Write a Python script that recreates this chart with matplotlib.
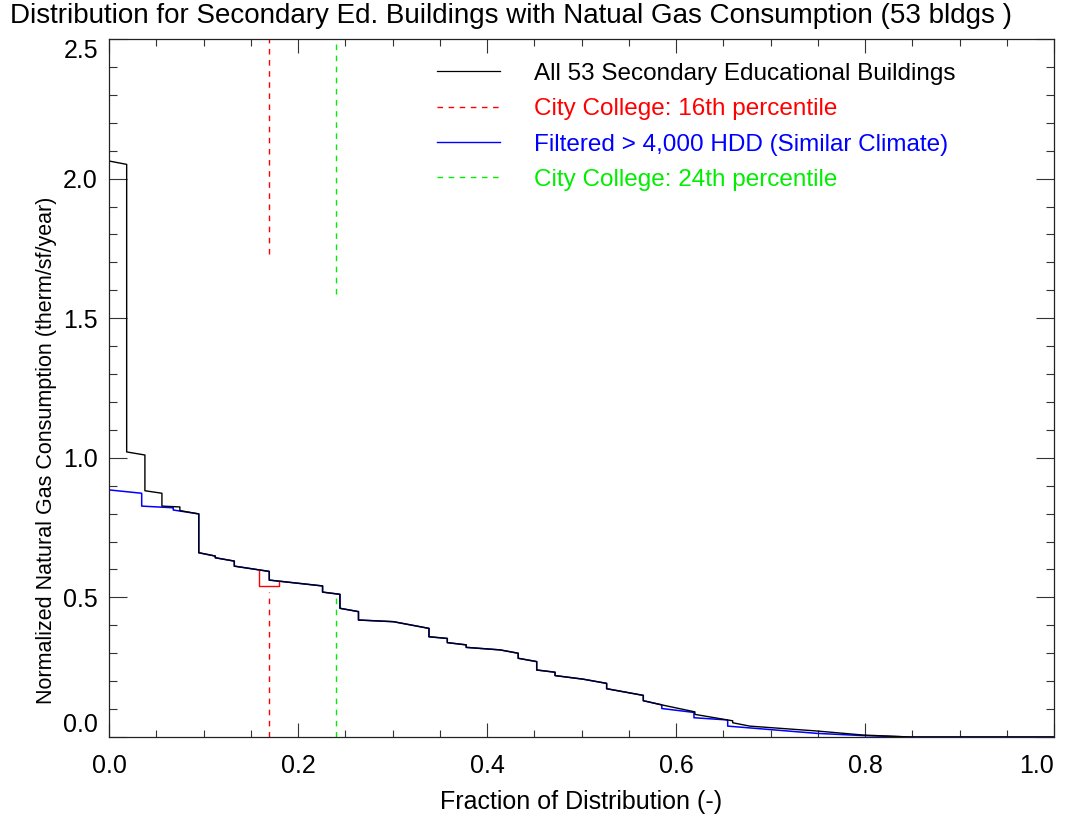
import matplotlib
matplotlib.use("Agg")
import matplotlib.pyplot as plt
from matplotlib.lines import Line2D
from matplotlib.ticker import MultipleLocator

# All 53 secondary educational buildings (sorted, step-like distribution)
black_x = [0.0, 0.0187, 0.0187, 0.038, 0.038, 0.056, 0.056, 0.075, 0.075, 0.095,
           0.095, 0.1125, 0.1125, 0.1326, 0.1326, 0.1696, 0.1696, 0.226, 0.226,
           0.2444, 0.2444, 0.264, 0.264, 0.301, 0.3386, 0.3386, 0.358, 0.358,
           0.378, 0.378, 0.4138, 0.433, 0.433, 0.4526, 0.4526, 0.472, 0.472,
           0.502, 0.5266, 0.5266, 0.5654, 0.5654, 0.585, 0.620, 0.620, 0.6547,
           0.660, 0.660, 0.678, 0.749, 0.798, 0.848, 1.0]
black_y = [2.063, 2.051, 1.021, 1.010, 0.882, 0.873, 0.827, 0.824, 0.811, 0.799,
           0.660, 0.648, 0.642, 0.630, 0.612, 0.593, 0.562, 0.541, 0.519,
           0.511, 0.461, 0.449, 0.419, 0.413, 0.389, 0.359, 0.353, 0.338,
           0.330, 0.321, 0.312, 0.300, 0.282, 0.270, 0.240, 0.232, 0.220,
           0.207, 0.192, 0.173, 0.149, 0.130, 0.115, 0.090, 0.081, 0.061,
           0.058, 0.051, 0.039, 0.0215, 0.007, 0.0, 0.0]

# Filtered > 4,000 HDD
blue_x = [0.0, 0.0346, 0.0346, 0.068, 0.068, 0.095,
          0.095, 0.1125, 0.1125, 0.1326, 0.1326, 0.1696, 0.1696, 0.226, 0.226,
          0.2444, 0.2444, 0.264, 0.264, 0.301, 0.3386, 0.3386, 0.358, 0.358,
          0.378, 0.378, 0.4138, 0.433, 0.433, 0.4526, 0.4526, 0.472, 0.472,
          0.502, 0.5266, 0.5266, 0.5654, 0.5654, 0.585,
          0.585, 0.619, 0.619, 0.6547, 0.6547, 0.749, 0.798, 0.848, 1.0]
blue_y = [0.885, 0.873, 0.827, 0.821, 0.813, 0.799,
          0.660, 0.648, 0.642, 0.630, 0.612, 0.593, 0.562, 0.541, 0.519,
          0.511, 0.461, 0.449, 0.419, 0.413, 0.389, 0.359, 0.353, 0.338,
          0.330, 0.321, 0.312, 0.300, 0.282, 0.270, 0.240, 0.232, 0.220,
          0.207, 0.192, 0.173, 0.149, 0.130, 0.115,
          0.102, 0.088, 0.069, 0.061, 0.039, 0.013, 0.005, 0.0, 0.0]

# City College step (highlighted)
red_x = [0.159, 0.159, 0.180, 0.180]
red_y = [0.593, 0.541, 0.541, 0.556]

# percentile markers: x position, lower segment top, upper segment bottom
pct16_x, pct16_low, pct16_high = 0.169, 0.52, 1.73
pct24_x, pct24_low, pct24_high = 0.240, 0.51, 1.585

xtick_vals = [0.0, 0.2, 0.4, 0.6, 0.8, 1.0]
ytick_vals = [0.0, 0.5, 1.0, 1.5, 2.0, 2.5]

legend_labels = ["All 53 Secondary Educational Buildings",
                 "City College: 16th percentile",
                 "Filtered > 4,000 HDD (Similar Climate)",
                 "City College: 24th percentile"]

RED = "#ff0000"
GREEN = "#00ee00"
BLUE = "#0000ff"

plt.rcParams["font.family"] = ["Liberation Sans", "DejaVu Sans"]

fig = plt.figure(figsize=(10.7, 8.15), dpi=100)
ax = fig.add_axes((109 / 1070, 78 / 815, 945 / 1070, 698 / 815))

dash = (0, (4, 4))
ax.plot(blue_x, blue_y, color=BLUE, lw=1.1)
ax.plot(black_x, black_y, color="black", lw=1.0)
ax.plot(red_x, red_y, color=RED, lw=1.0)

ax.plot([pct16_x, pct16_x], [0, pct16_low], color=RED, lw=1.0, linestyle=dash)
ax.plot([pct16_x, pct16_x], [pct16_high, 2.5], color=RED, lw=1.0, linestyle=dash)
ax.plot([pct24_x, pct24_x], [0, pct24_low], color=GREEN, lw=1.0, linestyle=dash)
ax.plot([pct24_x, pct24_x], [pct24_high, 2.5], color=GREEN, lw=1.0, linestyle=dash)

ax.set_xlim(0, 1)
ax.set_ylim(0, 2.5)

ax.set_xticks(xtick_vals, [f"{v:.1f}" for v in xtick_vals])
ax.set_yticks(ytick_vals, [f"{v:.1f}" for v in ytick_vals])
ax.xaxis.set_minor_locator(MultipleLocator(0.05))
ax.yaxis.set_minor_locator(MultipleLocator(0.1))

ax.tick_params(axis="both", which="both", direction="in", top=True, right=True,
               width=0.8, color="#333333", labelsize=18)
ax.tick_params(axis="x", which="major", length=10, pad=12)
ax.tick_params(axis="x", which="minor", length=5)
ax.tick_params(axis="y", which="major", length=13, pad=8)
ax.tick_params(axis="y", which="minor", length=6)
for s in ax.spines.values():
    s.set_linewidth(0.9)
    s.set_color("#222222")

# IDL-style end labels sit inside the plot range
ylabs = ax.get_yticklabels()
ylabs[0].set_verticalalignment("bottom")
ylabs[-1].set_verticalalignment("top")
ax.get_xticklabels()[-1].set_horizontalalignment("right")

ax.set_xlabel("Fraction of Distribution (-)", fontsize=18, labelpad=9)
ax.set_ylabel("Normalized Natural Gas Consumption (therm/sf/year)", fontsize=15.5)
ax.yaxis.set_label_coords(-0.055, 0.411)

fig.text(10 / 1070, 1 - 16 / 815,
         "Distribution for Secondary Ed. Buildings with Natual Gas Consumption (53 bldgs )",
         ha="left", va="center", fontsize=20)

handles = [Line2D([], [], color="black", lw=0.9),
           Line2D([], [], color=RED, lw=1.0, linestyle=dash),
           Line2D([], [], color=BLUE, lw=1.0),
           Line2D([], [], color=GREEN, lw=1.0, linestyle=dash)]
leg = ax.legend(handles, legend_labels, loc="upper left", bbox_to_anchor=(0.347, 0.966),
                frameon=False, borderpad=0, borderaxespad=0, handlelength=2.6,
                handletextpad=1.4, labelspacing=0.55, fontsize=17.5,
                labelcolor=["black", RED, BLUE, GREEN])

fig.savefig("out.png", dpi=100)
